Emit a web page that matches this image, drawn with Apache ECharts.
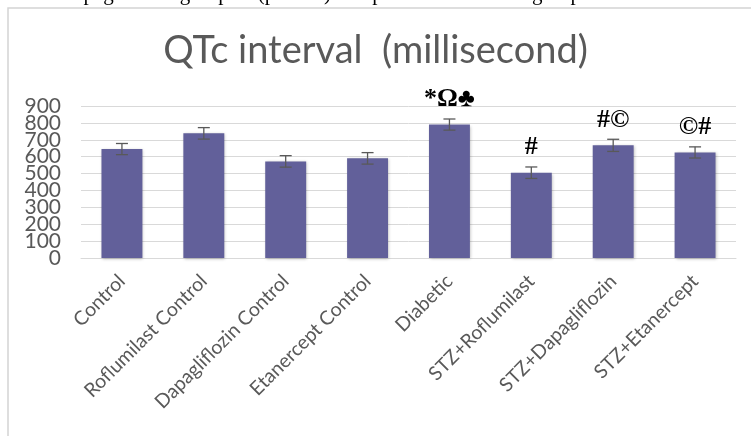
<!DOCTYPE html>
<html>
<head>
<meta charset="utf-8">
<script src="https://cdn.jsdelivr.net/npm/echarts@6/dist/echarts.min.js"></script>
<style>
  html, body { margin: 0; padding: 0; background: #fff; }
  #chart { width: 751px; height: 436px; }
</style>
</head>
<body>
<div id="chart"></div>
<script>
// groups on the x axis
const groups = ['Control', 'Roflumilast Control', 'Dapagliflozin Control', 'Etanercept Control',
  'Diabetic', 'STZ+Roflumilast', 'STZ+Dapagliflozin', 'STZ+Etanercept']
// mean QTc (ms) and error bar half-height
const qtc = [645, 738, 572, 590, 790, 505, 667, 625]
const qtcErr = [33, 34, 34, 34, 33, 34, 36, 33]
// significance marks above bars
const marks = ['', '', '', '', '*\u03A9\u2663', '#', '#\u00A9', '\u00A9#']

const chart = echarts.init(document.getElementById('chart'))

// labels are packed tighter than their height, so even and odd hundreds
// go on two stacked axes to keep echarts from hiding any of them
function yAxisFor(even) {
  return {
    type: 'value',
    position: 'left',
    min: 0,
    max: 900,
    interval: 100,
    axisLine: { show: false },
    axisTick: { show: false },
    splitLine: { show: even, lineStyle: { color: '#d9d9d9', width: 1 } },
    axisLabel: {
      margin: 20,
      fontFamily: 'Lato',
      fontSize: 21,
      color: '#595959',
      showMinLabel: true,
      showMaxLabel: true,
      formatter: v => ((v / 100) % 2 === 0) === even ? String(v) : ''
    }
  }
}

const option = {
  backgroundColor: '#fff',
  animation: false,
  title: {
    text: 'QTc interval  (millisecond)',
    left: 'center',
    top: 27,
    textStyle: {
      fontFamily: 'Lato',
      fontSize: 38,
      fontWeight: 'normal',
      color: '#595959'
    }
  },
  graphic: [
    {
      type: 'rect',
      shape: { x: 8, y: 8, width: 800, height: 500 },
      style: { fill: 'none', stroke: '#d4d4d4', lineWidth: 1.5 },
      z: -1
    },
    {
      type: 'text',
      left: -4,
      top: -16,
      style: {
        text: 'ared to Dapagliflozin groups    (p<0.05) compared to a diabetic group',
        font: '21px "Liberation Serif"',
        fill: '#000'
      }
    }
  ],
  grid: { left: 81, right: 15, top: 106, bottom: 178 },
  xAxis: {
    type: 'category',
    data: groups,
    axisLine: { lineStyle: { color: '#d9d9d9', width: 1 } },
    axisTick: { show: false },
    axisLabel: {
      rotate: 45,
      interval: 0,
      margin: 20,
      fontFamily: 'Lato',
      fontSize: 19.5,
      color: '#595959'
    }
  },
  yAxis: [yAxisFor(true), yAxisFor(false)],
  series: [
    {
      type: 'bar',
      data: qtc,
      barWidth: '50%',
      itemStyle: {
        color: '#62609a',
        shadowColor: 'rgba(0,0,0,0.25)',
        shadowBlur: 3,
        shadowOffsetX: 1,
        shadowOffsetY: 1
      },
      label: {
        show: true,
        position: 'top',
        distance: 12,
        formatter: p => marks[p.dataIndex],
        fontFamily: 'Liberation Serif',
        fontWeight: 'bold',
        fontSize: 26,
        color: '#000'
      }
    },
    {
      type: 'custom',
      data: qtc.map((v, i) => [i, v, qtcErr[i]]),
      renderItem: function (params, api) {
        const x = api.value(0)
        const v = api.value(1)
        const e = api.value(2)
        const hi = api.coord([x, v + e])
        const lo = api.coord([x, v - e])
        const cap = 6
        const style = { stroke: '#595959', lineWidth: 1.3 }
        return {
          type: 'group',
          children: [
            { type: 'line', shape: { x1: hi[0], y1: hi[1], x2: lo[0], y2: lo[1] }, style },
            { type: 'line', shape: { x1: hi[0] - cap, y1: hi[1], x2: hi[0] + cap, y2: hi[1] }, style },
            { type: 'line', shape: { x1: lo[0] - cap, y1: lo[1], x2: lo[0] + cap, y2: lo[1] }, style }
          ]
        }
      },
      z: 5
    }
  ]
}

chart.setOption(option)
</script>
</body>
</html>
